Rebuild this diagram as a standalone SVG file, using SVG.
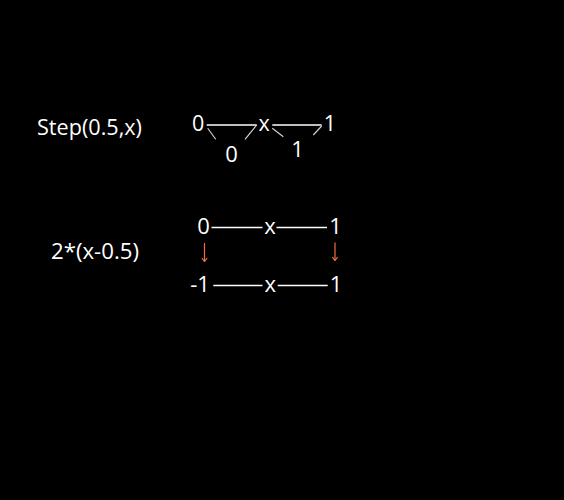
<svg xmlns="http://www.w3.org/2000/svg" width="564" height="500" viewBox="0 0 564 500">
  <defs>
    <style>
      text { font-family: "Open Sans", "Noto Sans", sans-serif; fill: #ffffff; font-weight: 500; }
      .lbl { font-size: 22px; }
      .sm { font-size: 21.5px; }
      .md { font-size: 22px; }
      .mid { text-anchor: middle; }
      .ln { stroke: #ffffff; stroke-width: 1.6; fill: none; }
      .br { stroke: #d8d8d8; stroke-width: 1.1; fill: none; }
      .arr { stroke: #f0703c; stroke-width: 1.2; fill: none; marker-end: url(#ah); }
    </style>
    <marker id="ah" viewBox="0 0 8 8" refX="7" refY="4" markerWidth="7" markerHeight="7" orient="auto" markerUnits="userSpaceOnUse">
      <path d="M3,1 L7,4 L3,7" fill="none" stroke="#f0703c" stroke-width="1.4"/>
    </marker>
  </defs>
  <rect x="0" y="0" width="564" height="500" fill="#000000"/>

  <g id="label-step"><text class="lbl" x="37" y="135" textLength="105" lengthAdjust="spacingAndGlyphs">Step(0.5,x)</text></g>
  <g id="label-scale"><text class="lbl" x="51" y="259" textLength="88" lengthAdjust="spacingAndGlyphs">2*(x-0.5)</text></g>

  <g id="step-0"><text class="sm mid" x="198.2" y="131">0</text></g>
  <g id="step-x"><text class="sm mid" x="264.2" y="131">x</text></g>
  <g id="step-1"><text class="sm mid" x="330" y="131">1</text></g>
  <g id="step-out0"><text class="md mid" x="231.5" y="161.7">0</text></g>
  <g id="step-out1"><text class="md mid" x="297.5" y="157.3">1</text></g>

  <g id="top-0"><text class="lbl mid" x="203.5" y="234">0</text></g>
  <g id="top-x"><text class="lbl mid" x="270" y="234">x</text></g>
  <g id="top-1"><text class="lbl mid" x="335.5" y="234">1</text></g>
  <g id="bot-m1"><text class="lbl mid" x="200" y="292">-1</text></g>
  <g id="bot-x"><text class="lbl mid" x="270.3" y="292">x</text></g>
  <g id="bot-1"><text class="lbl mid" x="336" y="292">1</text></g>

  <g id="connectors">
    <line class="ln" x1="206.7" y1="125" x2="256.7" y2="125"/>
    <line class="ln" x1="272.3" y1="125" x2="321.7" y2="125"/>
    <path class="br" d="M207.7,128.3 L215.7,139.3"/>
    <path class="br" d="M256.7,125 L245,139.3"/>
    <path class="br" d="M272.3,128.3 L283.3,136.7"/>
    <path class="br" d="M321.7,126 L313.3,135"/>

    <line class="ln" x1="211.5" y1="227.5" x2="262.5" y2="227.5"/>
    <line class="ln" x1="276.5" y1="227.5" x2="327" y2="227.5"/>
    <line class="ln" x1="213.3" y1="285.5" x2="262.5" y2="285.5"/>
    <line class="ln" x1="277.7" y1="285.5" x2="327.7" y2="285.5"/>

    <line class="arr" x1="204.5" y1="243" x2="204.5" y2="261.5"/>
    <line class="arr" x1="335" y1="242.5" x2="335" y2="260.5"/>
  </g>
</svg>
